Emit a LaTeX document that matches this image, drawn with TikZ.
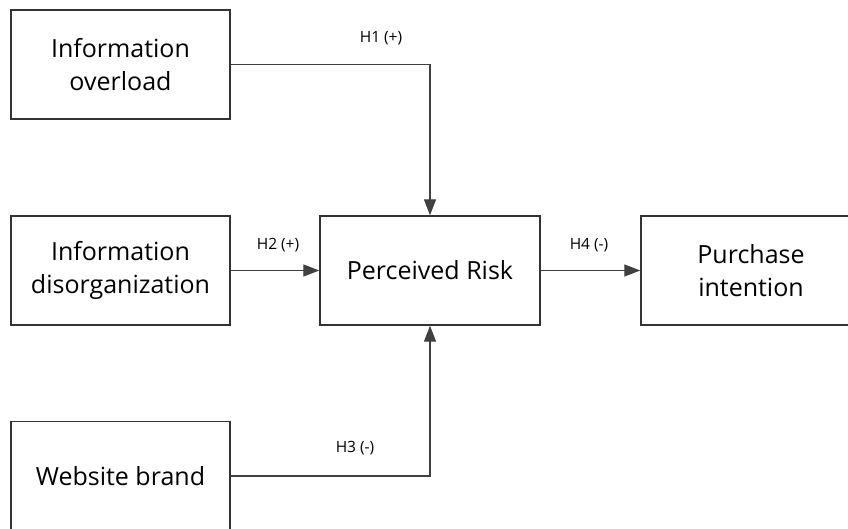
\documentclass[tikz,border=0pt]{standalone}
\usepackage{fontspec}
\setmainfont{Open Sans}
\usetikzlibrary{arrows.meta}
\begin{document}
\begin{tikzpicture}[x=1pt,y=-1pt,
  bigtext/.style={font=\fontsize{25}{33}\selectfont,align=center},
  box/.style={draw=black!80,line width=1.4pt,fill=white,inner sep=0pt,bigtext,minimum width=219pt,minimum height=109pt},
  conn/.style={draw=black!75,line width=1.3pt,-{Triangle[length=16pt,width=12pt]}},
  lbl/.style={font=\fontsize{15.5}{18}\selectfont,inner sep=0pt}]
\useasboundingbox (0,0) rectangle (848,529);
\node[box] (io) at (120.5,64.5) {Information\\overload};
\node[box] (id) at (120.5,270.5) {Information\\disorganization};
\node[box] (wb) at (120.5,476) {Website brand};
\node[box,minimum width=220pt] (pr) at (430,270.5) {Perceived Risk};
\node[box,minimum width=220pt] (pi) at (751,270.5) {Purchase\\intention};
\coordinate (c1) at (430,64.5);
\coordinate (c3) at (430,476);
\draw[conn] (io.east) -- (c1) -- (pr.north);
\draw[conn] (wb.east) -- (c3) -- (pr.south);
\draw[conn] (id.east) -- (pr.west);
\draw[conn] (pr.east) -- (pi.west);
\node[lbl] (h1) at (381,38) {H1 (+)};
\node[lbl] (h2) at (278,245) {H2 (+)};
\node[lbl] (h3) at (355,448) {H3 (-)};
\node[lbl] (h4) at (589,245) {H4 (-)};
\end{tikzpicture}
\end{document}
